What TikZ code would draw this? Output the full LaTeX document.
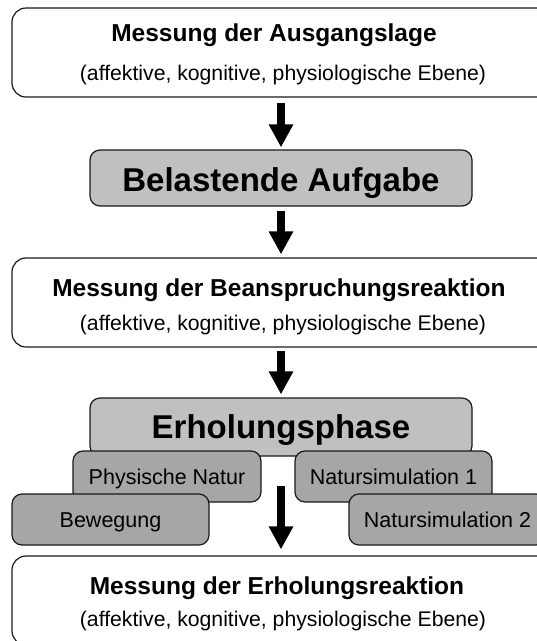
\documentclass[tikz,border=0pt]{standalone}
\usepackage{fontspec}
\setmainfont{Liberation Sans}
\usetikzlibrary{arrows.meta}
\definecolor{grayA}{HTML}{C0C0C0}
\definecolor{grayB}{HTML}{A6A6A6}
\definecolor{edge}{HTML}{1A1A1A}
\tikzset{
  whitebox/.style={draw=edge, line width=1.2pt, rounded corners=14pt, fill=white,
    minimum width=538pt, minimum height=89pt, inner sep=0pt},
  graybox/.style={draw=edge, line width=1.2pt, rounded corners=10pt, fill=grayA,
    inner sep=0pt, minimum width=382pt, minimum height=56pt,
    text height=27.6pt, text depth=0pt,
    font=\bfseries\fontsize{33}{38}\selectfont},
  subbox/.style={draw=edge, line width=1.2pt, rounded corners=10pt, fill=grayB,
    inner sep=0pt, minimum width=197pt, minimum height=51pt,
    text height=15.4pt, text depth=0pt,
    font=\fontsize{21.5}{25}\selectfont},
  titletext/.style={font=\bfseries\fontsize{24.5}{28}\selectfont, inner sep=0pt, anchor=base},
  subtext/.style={font=\fontsize{21.2}{25}\selectfont, inner sep=0pt, anchor=base},
  bigarrow/.style={line width=8.5pt, draw=black, -{Triangle[width=23pt,length=23pt]}},
}
\begin{document}
\begin{tikzpicture}[x=1pt,y=-1pt]
\useasboundingbox (0,0) rectangle (537,641);
\clip (0,0) rectangle (537,641);
% box 1
\node[whitebox] (m1) at (281,52.5) {};
\node[titletext] (m1t) at (274,41.5) {Messung der Ausgangslage};
\node[subtext] (m1s) at (283,80.5) {(affektive, kognitive, physiologische Ebene)};
% task
\node[graybox] (bel) at (281,178) {Belastende Aufgabe};
% box 3
\node[whitebox] (m2) at (281,302.5) {};
\node[titletext] (m2t) at (279,296.5) {Messung der Beanspruchungsreaktion};
\node[subtext] (m2s) at (283,330.5) {(affektive, kognitive, physiologische Ebene)};
% recovery
\node[graybox, minimum height=58pt, text height=23.6pt] (erh) at (281,427) {Erholungsphase};
\node[subbox, minimum width=188pt] (phys) at (167,476.5) {Physische Natur};
\node[subbox] (nat1) at (393.5,476.5) {Natursimulation 1};
\node[subbox] (bew) at (110.5,519.5) {Bewegung};
\node[subbox] (nat2) at (447.5,519.5) {Natursimulation 2};
% box 5
\node[whitebox] (m3) at (281,600.5) {};
\node[titletext] (m3t) at (277,594.5) {Messung der Erholungsreaktion};
\node[subtext] (m3s) at (283,626.5) {(affektive, kognitive, physiologische Ebene)};
% arrows
\coordinate (a4) at (281,486);
\draw[bigarrow, shorten <=5pt, shorten >=2pt] (m1.south) -- (bel.north);
\draw[bigarrow, shorten <=4pt, shorten >=3pt] (bel.south) -- (m2.north);
\draw[bigarrow, shorten <=3pt, shorten >=3pt] (m2.south) -- (erh.north);
\draw[bigarrow, shorten >=6pt] (a4) -- (m3.north);
\end{tikzpicture}
\end{document}
